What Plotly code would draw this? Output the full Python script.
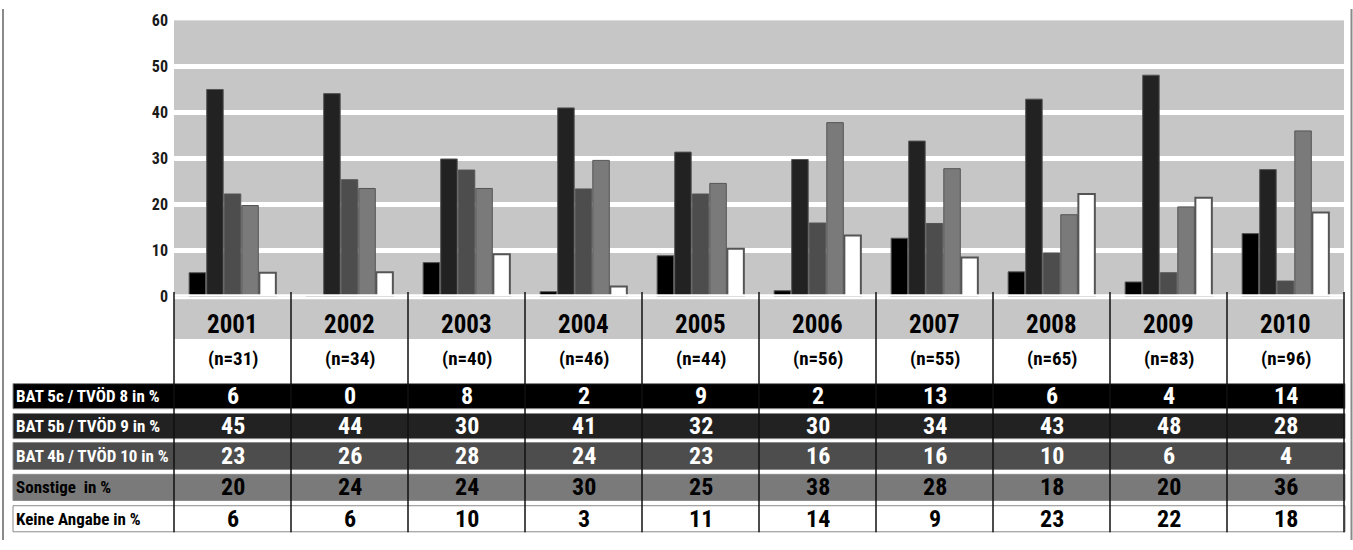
import plotly.graph_objects as go

# ---------------- data ----------------
years = ["2001", "2002", "2003", "2004", "2005", "2006", "2007", "2008", "2009", "2010"]
n_labels = ["(n=31)", "(n=34)", "(n=40)", "(n=46)", "(n=44)", "(n=56)", "(n=55)", "(n=65)", "(n=83)", "(n=96)"]

series_names = ["BAT 5c / TVÖD 8 in %", "BAT 5b / TVÖD 9 in %", "BAT 4b / TVÖD 10 in %",
                "Sonstige  in %", "Keine Angabe in %"]

# bar heights
bat5c_bars = [5.2, 0, 7.4, 1.1, 8.9, 1.3, 12.7, 5.4, 3.2, 13.7]
bat5b_bars = [45.0, 44.1, 29.9, 41.0, 31.4, 29.8, 33.8, 42.9, 48.1, 27.6]
bat4b_bars = [22.3, 25.4, 27.5, 23.4, 22.3, 16.0, 15.9, 9.5, 5.2, 3.4]
sonst_bars = [19.8, 23.5, 23.5, 29.6, 24.6, 37.8, 27.8, 17.8, 19.5, 36.0]
keine_bars = [5.2, 5.3, 9.2, 2.2, 10.4, 13.3, 8.5, 22.3, 21.5, 18.3]

# values printed in the table
bat5c_tab = [6, 0, 8, 2, 9, 2, 13, 6, 4, 14]
bat5b_tab = [45, 44, 30, 41, 32, 30, 34, 43, 48, 28]
bat4b_tab = [23, 26, 28, 24, 23, 16, 16, 10, 6, 4]
sonst_tab = [20, 24, 24, 30, 25, 38, 28, 18, 20, 36]
keine_tab = [6, 6, 10, 3, 11, 14, 9, 23, 22, 18]

y_ticks = [0, 10, 20, 30, 40, 50, 60]

# ---------------- layout constants ----------------
W, H = 1353, 550
FONT = "Roboto Condensed, DejaVu Sans Condensed, sans-serif"
PLOT_X0, PLOT_X1 = 174, 1344
PLOT_Y_TOP, PLOT_Y_ZERO = 11.8, 298
LABEL_X0 = 13
TABLE_X1 = 1345
YEAR_BAND = (300.7, 341.7)
YEAR_TEXT_Y = 327
N_TEXT_Y = 361.5
ROWS = [(388, 414), (419, 445), (449, 477), (482, 509), (514.5, 541.5)]
SEP_Y = (293, 542)

bar_colors = ["#000000", "#222222", "#4d4d4d", "#7a7a7a", "#ffffff"]
row_text_colors = ["#ffffff", "#ffffff", "#ffffff", "#000000", "#000000"]
bar_line_colors = ["#555555", "#555555", "#555555", "#555555", "#555555"]
bar_line_widths = [1, 1, 1, 1, 2]


def px(x):
    return x / W


def py(y):
    return 1 - y / H


bar_series = [bat5c_bars, bat5b_bars, bat4b_bars, sonst_bars, keine_bars]
tab_series = [bat5c_tab, bat5b_tab, bat4b_tab, sonst_tab, keine_tab]

fig = go.Figure()
for name, vals, col, lc, lw in zip(series_names, bar_series, bar_colors, bar_line_colors, bar_line_widths):
    fig.add_trace(go.Bar(x=years, y=vals, name=name,
                         marker=dict(color=col, line=dict(color=lc, width=lw)),
                         hoverinfo="x+y+name"))

shapes = []
annotations = []

# white zero line over bar bottoms
shapes.append(dict(type="line", xref="paper", yref="y", x0=px(PLOT_X0), x1=px(PLOT_X1), y0=0, y1=0,
                   line=dict(color="#ffffff", width=5), layer="above"))

# year band
shapes.append(dict(type="rect", xref="paper", yref="paper", x0=px(PLOT_X0), x1=px(PLOT_X1),
                   y0=py(YEAR_BAND[1]), y1=py(YEAR_BAND[0]), fillcolor="#c6c6c6", line=dict(width=0),
                   layer="below"))

# table rows
for i, (top, bot) in enumerate(ROWS):
    shapes.append(dict(type="rect", xref="paper", yref="paper", x0=px(LABEL_X0), x1=px(TABLE_X1),
                       y0=py(bot), y1=py(top), fillcolor=bar_colors[i],
                       line=dict(color="#8a8a8a", width=1), layer="below"))
    annotations.append(dict(xref="paper", yref="paper", x=px(LABEL_X0 + 1), y=py((top + bot) / 2),
                            xanchor="left", yanchor="middle", showarrow=False, text=series_names[i],
                            font=dict(family=FONT, size=17, color=row_text_colors[i], weight="bold")))
    for ci, v in enumerate(tab_series[i]):
        annotations.append(dict(xref="x", yref="paper", x=ci, y=py((top + bot) / 2),
                                xanchor="center", yanchor="middle", showarrow=False, text=str(v),
                                font=dict(family=FONT, size=24, color=row_text_colors[i], weight="bold")))

# column separators
ncol = len(years)
colw = (PLOT_X1 - PLOT_X0) / ncol
for k in range(ncol + 1):
    xx = PLOT_X0 + k * colw
    shapes.append(dict(type="line", xref="paper", yref="paper", x0=px(xx), x1=px(xx),
                       y0=py(SEP_Y[1]), y1=py(SEP_Y[0]), line=dict(color="#111111", width=1.5),
                       layer="above"))

# years and n labels
for ci, (yr, nl) in enumerate(zip(years, n_labels)):
    annotations.append(dict(xref="x", yref="paper", x=ci, y=py(YEAR_TEXT_Y), xanchor="center",
                            yanchor="middle", showarrow=False, text=yr,
                            font=dict(family=FONT, size=25, color="#000000", weight="bold")))
    annotations.append(dict(xref="x", yref="paper", x=ci, y=py(N_TEXT_Y), xanchor="center",
                            yanchor="middle", showarrow=False, text=nl,
                            font=dict(family=FONT, size=19, color="#000000", weight="bold")))

# outer frame lines
for xx in (3, 1351.5):
    shapes.append(dict(type="line", xref="paper", yref="paper", x0=px(xx), x1=px(xx), y0=0, y1=1,
                       line=dict(color="#8a8a8a", width=2)))

fig.update_layout(
    width=W, height=H,
    margin=dict(l=0, r=0, t=0, b=0),
    paper_bgcolor="#ffffff",
    plot_bgcolor="#c6c6c6",
    barmode="group",
    bargap=0.25,
    bargroupgap=0.06,
    showlegend=False,
    shapes=shapes,
    annotations=annotations,
    xaxis=dict(type="category", domain=[px(PLOT_X0), px(PLOT_X1)], range=[-0.5, len(years) - 0.5],
               showticklabels=False, showgrid=False, zeroline=False, showline=False, ticks=""),
    yaxis=dict(domain=[py(PLOT_Y_ZERO), py(PLOT_Y_TOP)], range=[0, 60], tickvals=y_ticks,
               showgrid=True, gridcolor="#ffffff", gridwidth=4.5, zeroline=False, showline=False,
               ticks="", ticklabelstandoff=5,
               tickfont=dict(family=FONT, size=16, color="#1a1a1a", weight="bold")),
)

fig.write_html("out.html")
